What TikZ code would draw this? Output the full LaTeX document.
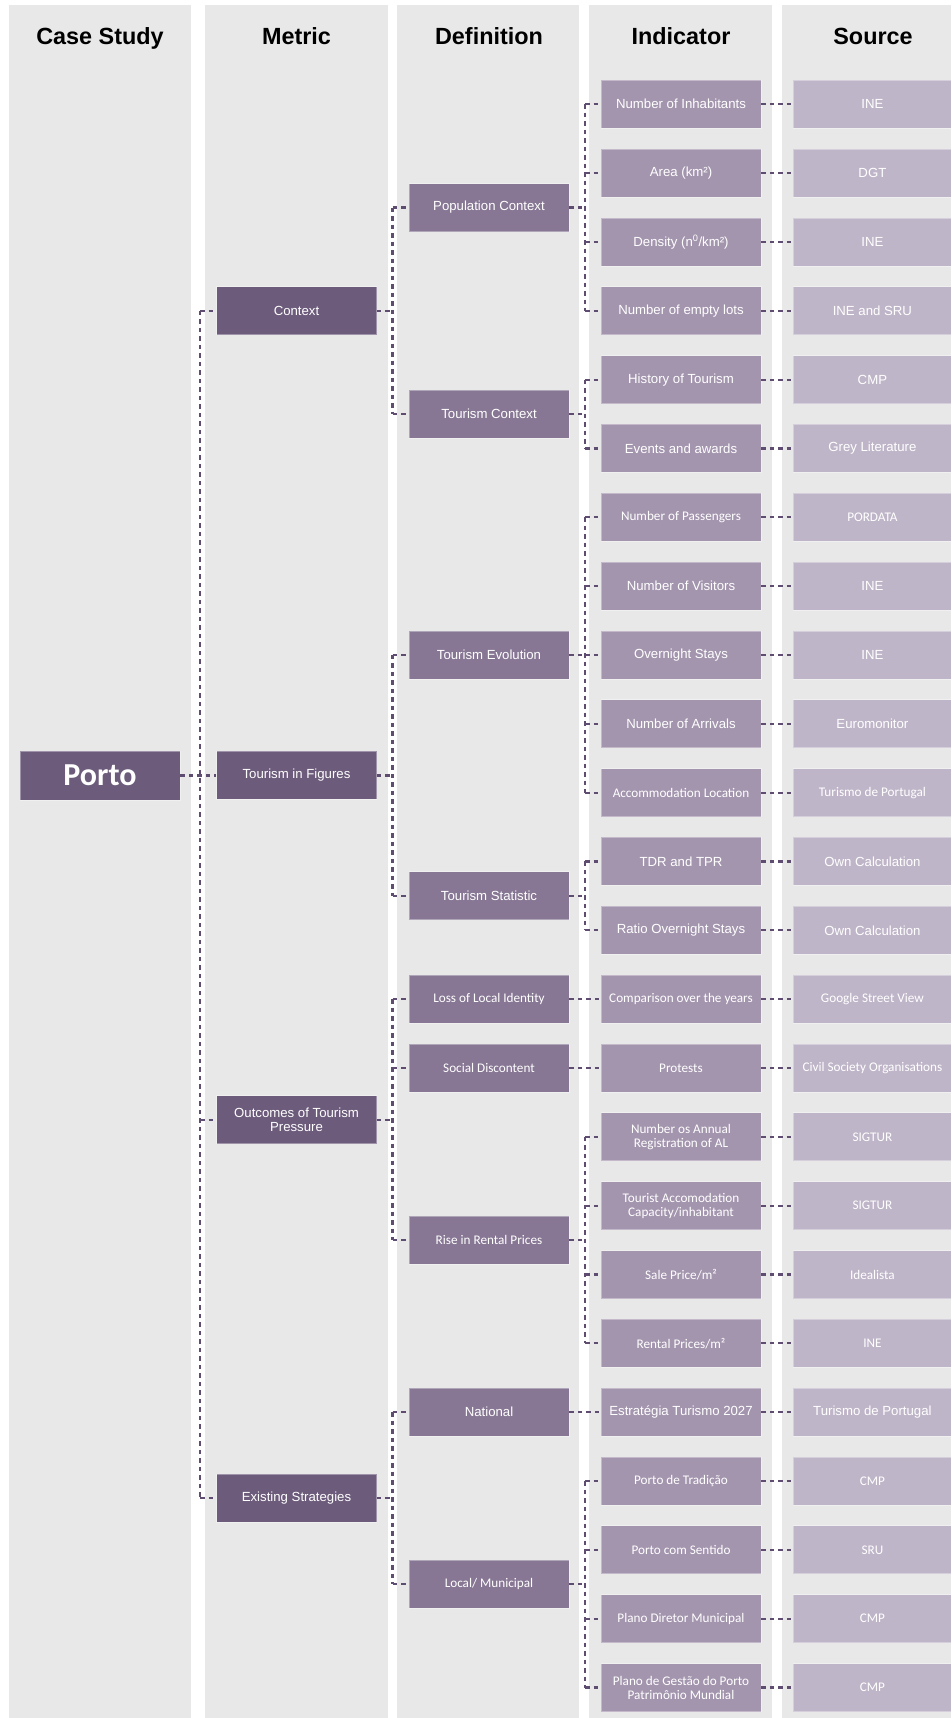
\documentclass[tikz,border=0pt]{standalone}
\usepackage{fontspec}
\newfontfamily\arial{Liberation Sans}
\newfontfamily\calibri{Carlito}
\definecolor{colbg}{HTML}{E8E8E8}
\definecolor{metc}{HTML}{6C5B7B}
\definecolor{defc}{HTML}{877794}
\definecolor{indc}{HTML}{A395AE}
\definecolor{srcc}{HTML}{BFB5C8}
\definecolor{linec}{HTML}{5E4D70}
\tikzset{
  colrect/.style={fill=colbg, draw=none},
  hdr/.style={font=\arial\bfseries\fontsize{23.4bp}{28bp}\selectfont, text=black, inner sep=0pt, anchor=base},
  box/.style={minimum width=160bp, minimum height=48bp, inner sep=0pt, text=white, align=center, draw=white, draw opacity=0.35, line width=0.8bp},
  fa/.style={font=\arial\fontsize{13.2bp}{13.4bp}\selectfont},
  fc/.style={font=\calibri\fontsize{13.2bp}{14bp}\selectfont},
  metbox/.style={box, fill=metc},
  defbox/.style={box, fill=defc},
  indbox/.style={box, fill=indc},
  srcbox/.style={box, fill=srcc, minimum width=158bp, anchor=west},
  conn/.style={draw=linec, line width=2.2bp, dash pattern=on 4.5bp off 4bp}
}
\begin{document}
\begin{tikzpicture}[x=1bp,y=-1bp]
\useasboundingbox (0,0) rectangle (951,1718);
\fill[white] (0,0) rectangle (951,1718);
% columns
\fill[colrect] (9,5) rectangle (191,1718);
\fill[colrect] (205,5) rectangle (388,1718);
\fill[colrect] (397,5) rectangle (579,1718);
\fill[colrect] (589,5) rectangle (772,1718);
\fill[colrect] (782,5) rectangle (951,1718);
% headers
\node[hdr] (h1) at (100,44.5) {Case Study};
\node[hdr] (h2) at (296.5,44.5) {Metric};
\node[hdr] (h3) at (489,44.5) {Definition};
\node[hdr] (h4) at (681,44.5) {Indicator};
\node[hdr] (h5) at (873,44.5) {Source};
% case study
\node[metbox, minimum height=49bp, font=\calibri\bfseries\fontsize{32bp}{36bp}\selectfont] (porto) at (100,775.4) {Porto};
% metrics
\node[metbox, fa] (ctx) at (296.5,310.75) {Context};
\node[metbox, fa] (tif) at (296.5,775.4) {Tourism in Figures};
\node[metbox, fa] (out) at (296.5,1119.6) {Outcomes of Tourism\\Pressure};
\node[metbox, fa] (exist) at (296.5,1498.2) {Existing Strategies};
% definitions
\node[defbox, fa] (pop) at (489,207.5) {Population Context};
\node[defbox, fa] (tc) at (489,414.0) {Tourism Context};
\node[defbox, fa] (tevo) at (489,654.9) {Tourism Evolution};
\node[defbox, fa] (tstat) at (489,895.85) {Tourism Statistic};
\node[defbox, fc] (loss) at (489,999.1) {Loss of Local Identity};
\node[defbox, fc] (soc) at (489,1068.0) {Social Discontent};
\node[defbox, fc] (rise) at (489,1240.05) {Rise in Rental Prices};
\node[defbox, fa] (nat) at (489,1412.2) {National};
\node[defbox, fc] (local) at (489,1584.25) {Local/ Municipal};
% indicators
\node[indbox, fa] (i0) at (681,104.2) {Number of Inhabitants};
\node[indbox, fa] (i1) at (681,173.0) {Area (km²)};
\node[indbox, fa] (i2) at (681,241.9) {Density (n\textsuperscript{0}/km²)};
\node[indbox, fa] (i3) at (681,310.7) {Number of empty lots};
\node[indbox, fa] (i4) at (681,379.6) {History of Tourism};
\node[indbox, fa] (i5) at (681,448.4) {Events and awards};
\node[indbox, fc] (i6) at (681,517.2) {Number of Passengers};
\node[indbox, fa] (i7) at (681,586.1) {Number of Visitors};
\node[indbox, fa] (i8) at (681,654.9) {Overnight Stays};
\node[indbox, fa] (i9) at (681,723.8) {Number of Arrivals};
\node[indbox, fc] (i10) at (681,792.6) {Accommodation Location};
\node[indbox, fa] (i11) at (681,861.4) {TDR and TPR};
\node[indbox, fa] (i12) at (681,930.3) {Ratio Overnight Stays};
\node[indbox, fc] (i13) at (681,999.1) {Comparison over the years};
\node[indbox, fc] (i14) at (681,1068.0) {Protests};
\node[indbox, fc] (i15) at (681,1136.8) {Number os Annual\\Registration of AL};
\node[indbox, fc] (i16) at (681,1205.6) {Tourist Accomodation\\Capacity/inhabitant};
\node[indbox, fc] (i17) at (681,1274.5) {Sale Price/m²};
\node[indbox, fc] (i18) at (681,1343.3) {Rental Prices/m²};
\node[indbox, fa] (i19) at (681,1412.2) {Estratégia Turismo 2027};
\node[indbox, fc] (i20) at (681,1481.0) {Porto de Tradição};
\node[indbox, fc] (i21) at (681,1549.8) {Porto com Sentido};
\node[indbox, fc] (i22) at (681,1618.7) {Plano Diretor Municipal};
\node[indbox, fc] (i23) at (681,1687.5) {Plano de Gestão do Porto\\Patrimônio Mundial};
% sources
\node[srcbox, fa] (s0) at (793,104.2) {INE};
\node[srcbox, fa] (s1) at (793,173.0) {DGT};
\node[srcbox, fa] (s2) at (793,241.9) {INE};
\node[srcbox, fa] (s3) at (793,310.7) {INE and SRU};
\node[srcbox, fa] (s4) at (793,379.6) {CMP};
\node[srcbox, fa] (s5) at (793,448.4) {Grey Literature};
\node[srcbox, fc] (s6) at (793,517.2) {PORDATA};
\node[srcbox, fa] (s7) at (793,586.1) {INE};
\node[srcbox, fa] (s8) at (793,654.9) {INE};
\node[srcbox, fa] (s9) at (793,723.8) {Euromonitor};
\node[srcbox, fc] (s10) at (793,792.6) {Turismo de Portugal};
\node[srcbox, fa] (s11) at (793,861.4) {Own Calculation};
\node[srcbox, fa] (s12) at (793,930.3) {Own Calculation};
\node[srcbox, fc] (s13) at (793,999.1) {Google Street View};
\node[srcbox, fc] (s14) at (793,1068.0) {Civil Society Organisations};
\node[srcbox, fc] (s15) at (793,1136.8) {SIGTUR};
\node[srcbox, fc] (s16) at (793,1205.6) {SIGTUR};
\node[srcbox, fc] (s17) at (793,1274.5) {Idealista};
\node[srcbox, fc] (s18) at (793,1343.3) {INE};
\node[srcbox, fa] (s19) at (793,1412.2) {Turismo de Portugal};
\node[srcbox, fc] (s20) at (793,1481.0) {CMP};
\node[srcbox, fc] (s21) at (793,1549.8) {SRU};
\node[srcbox, fc] (s22) at (793,1618.7) {CMP};
\node[srcbox, fc] (s23) at (793,1687.5) {CMP};
% bus coordinates
\coordinate (b1) at (200,0);
\coordinate (b2) at (392.5,0);
\coordinate (b3) at (585,0);
% case study -> metrics
\draw[conn] (porto.east) -- (tif.west);
\draw[conn] (ctx.west -| b1) -- (exist.west -| b1);
\foreach \n in {ctx,out,exist} \draw[conn] (\n.west -| b1) -- (\n.west);
% metrics -> definitions
\foreach \p/\a/\b in {ctx/pop/tc, tif/tevo/tstat, out/loss/rise, exist/nat/local} {
  \draw[conn] (\p.east) -- (\p.east -| b2);
  \draw[conn] (\a.west -| b2) -- (\b.west -| b2);
}
\foreach \c in {pop,tc,tevo,tstat,loss,soc,rise,nat,local} \draw[conn] (\c.west -| b2) -- (\c.west);
% definitions -> indicators
\foreach \p/\a/\b in {pop/i0/i3, tc/i4/i5, tevo/i6/i10, tstat/i11/i12, rise/i15/i18, local/i20/i23} {
  \draw[conn] (\p.east) -- (\p.east -| b3);
  \draw[conn] (\a.west -| b3) -- (\b.west -| b3);
}
\foreach \i in {0,1,2,3,4,5,6,7,8,9,10,11,12,15,16,17,18,20,21,22,23} \draw[conn] (i\i.west -| b3) -- (i\i.west);
\draw[conn] (loss.east) -- (i13.west);
\draw[conn] (soc.east) -- (i14.west);
\draw[conn] (nat.east) -- (i19.west);
% indicators -> sources
\foreach \i in {0,...,23} \draw[conn] (i\i.east) -- (s\i.west);
\end{tikzpicture}
\end{document}
